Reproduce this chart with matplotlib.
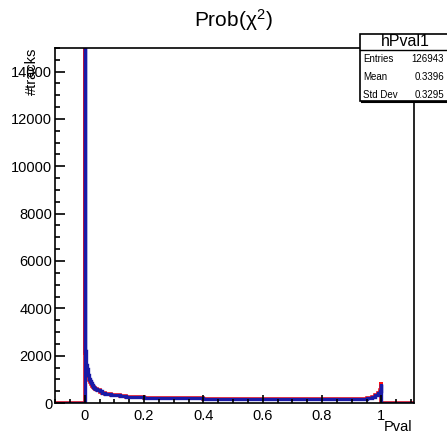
import matplotlib
matplotlib.use("Agg")
import matplotlib.pyplot as plt
from matplotlib.patches import Rectangle
from matplotlib.lines import Line2D
from matplotlib.ticker import MultipleLocator

plt.rcParams['font.family'] = ['Liberation Sans', 'DejaVu Sans']
plt.rcParams['mathtext.fontset'] = 'custom'
plt.rcParams['mathtext.rm'] = 'Liberation Sans'
plt.rcParams['mathtext.it'] = 'Liberation Sans'

# bin edges of the Pval histogram (fine near 0 and 1 where it changes fast)
edges = [-0.1, 0.0, 0.002, 0.004, 0.006, 0.008, 0.010, 0.012, 0.014, 0.016, 0.018,
         0.020, 0.024, 0.028, 0.032, 0.036, 0.040,
         0.05, 0.06, 0.07, 0.08, 0.09, 0.10, 0.12, 0.14, 0.16, 0.18, 0.20,
         0.25, 0.30, 0.35, 0.40, 0.45, 0.50, 0.55, 0.60, 0.65, 0.70, 0.75,
         0.80, 0.85, 0.90, 0.93, 0.95, 0.97, 0.98, 0.99, 0.994, 0.998, 1.0, 1.11]

# tracks per 0.002 of Pval
tracks_all = [0, 16500, 2200, 1800, 1600, 1450, 1300, 1180, 1080, 1000, 930,
              850, 760, 690, 640, 600,
              550, 490, 440, 400, 375, 350, 320, 290, 270, 255, 245,
              228, 215, 204, 194, 185, 177, 170, 164, 158, 154, 151, 149,
              149, 152, 160, 175, 205, 255, 325, 425, 525, 820, 0]

tracks_sel = [0, 16300, 2100, 1700, 1510, 1370, 1230, 1120, 1030, 955, 890,
              820, 735, 670, 625, 588,
              540, 482, 434, 396, 372, 348, 318, 289, 270, 256, 246,
              230, 218, 207, 197, 188, 181, 174, 168, 163, 159, 156, 154,
              154, 157, 165, 180, 212, 262, 335, 440, 545, 870, 0]

entries = 126943
mean = 0.3396
std_dev = 0.3295

W, H = 447, 436
fig = plt.figure(figsize=(W / 100, H / 100), dpi=100)
ax = fig.add_axes([55 / W, (H - 403) / H, (414 - 55) / W, (403 - 48) / H])

ax.stairs(tracks_sel, edges, color='#ff1010', lw=2.6)
ax.stairs(tracks_all, edges, color='#1a1aa6', lw=2.4)

ax.set_xlim(-0.1, 1.11)
ax.set_ylim(0, 15000)

ax.xaxis.set_major_locator(MultipleLocator(0.2))
ax.xaxis.set_minor_locator(MultipleLocator(0.05))
ax.yaxis.set_major_locator(MultipleLocator(2000))
ax.yaxis.set_minor_locator(MultipleLocator(500))
ax.set_xticks([0, 0.2, 0.4, 0.6, 0.8, 1.0])
ax.set_xticklabels(['0', '0.2', '0.4', '0.6', '0.8', '1'])

ax.tick_params(which='both', direction='in', top=False, right=False,
               labelsize=10.5, width=1.2)
ax.tick_params(axis='x', which='major', length=6, pad=4)
ax.tick_params(axis='x', which='minor', length=3)
ax.tick_params(axis='y', which='major', length=7, pad=2)
ax.tick_params(axis='y', which='minor', length=3.5)
for s in ax.spines.values():
    s.set_linewidth(1.2)

fig.text(234 / W, 1 - 20 / H, r'Prob($\chi^{2}$)', ha='center', va='center',
         fontsize=15)
fig.text(32 / W, 1 - 48 / H, '#tracks', rotation=90, ha='center', va='top',
         fontsize=10.5)
fig.text(412 / W, (H - 427) / H, 'Pval', ha='right', va='center', fontsize=10.5)

# stats box
bx0, bx1, by0, by1 = 360, 449, 34, 101
box = Rectangle((bx0 / W, 1 - by1 / H), (bx1 - bx0) / W, (by1 - by0) / H,
                transform=fig.transFigure, facecolor='white', edgecolor='black',
                lw=1.2, zorder=5)
fig.add_artist(box)
fig.add_artist(Line2D([bx0 / W, bx1 / W], [1 - 50 / H, 1 - 50 / H],
                      transform=fig.transFigure, color='black', lw=1.0, zorder=6))
fig.add_artist(Line2D([(bx0 + 2) / W, bx1 / W], [1 - (by1 + 1.5) / H, 1 - (by1 + 1.5) / H],
                      transform=fig.transFigure, color='black', lw=1.5, zorder=6))
fig.text(405 / W, 1 - 42 / H, 'hPval1', ha='center', va='center', fontsize=11.5,
         zorder=7)
rows = [('Entries', f'{entries}'), ('Mean', f'{mean:.4f}'), ('Std Dev', f'{std_dev:.4f}')]
for i, (name, val) in enumerate(rows):
    y = 1 - (59 + i * 18) / H
    fig.text(363 / W, y, name, ha='left', va='center', fontsize=7, zorder=7)
    fig.text(444 / W, y, val, ha='right', va='center', fontsize=7, zorder=7)

fig.savefig('out.png', dpi=100)
